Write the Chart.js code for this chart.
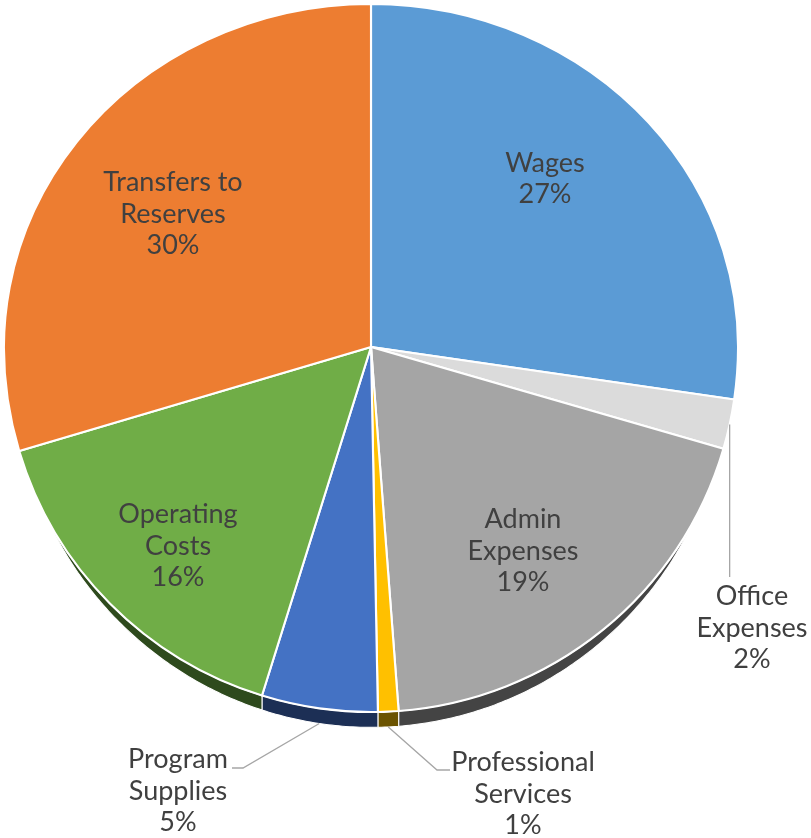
<!DOCTYPE html>
<html>
<head>
<meta charset="utf-8">
<script src="https://cdn.jsdelivr.net/npm/chart.js@4"></script>
<style>
  html, body { margin: 0; padding: 0; background: #fff; }
  #wrap { width: 811px; height: 838px; }
</style>
</head>
<body>
<div id="wrap"><canvas id="budget-pie" width="811" height="838"></canvas></div>
<script>
// slices, clockwise from 12 o'clock
const categories = [
  ["Wages"],
  ["Office", "Expenses"],
  ["Admin", "Expenses"],
  ["Professional", "Services"],
  ["Program", "Supplies"],
  ["Operating", "Costs"],
  ["Transfers to", "Reserves"]
];
const shares = [27.3, 2.2, 19.3, 0.9, 5.1, 15.6, 29.6];

const topColors = ["#5B9BD5", "#DBDBDB", "#A5A5A5", "#FFC000", "#4472C4", "#70AD47", "#ED7D31"];
const sideColors = ["#2E4F6E", "#6E6E6E", "#444444", "#6B5300", "#1C2F55", "#2E4A1D", "#7A3F15"];

// where the text blocks sit (centre x, centre y)
const labelAnchors = [[545, 179], [752, 628], [523, 551], [523, 794], [178, 791], [178, 546], [173, 214]];
// leader lines for the small slices: elbow and end points
const leaders = { 1: [[null, 577]], 3: [[437, 770], [450, 770]], 4: [[243, 768], [232, 768]] };

const R = 345;
const SX = 367 / R;     // wider than tall
const SY_TOP = 343 / R; // far half looks a bit shorter
const SY_BOT = 365 / R; // near half a bit taller
const DEPTH = 14.5;
const FONT = '27px Lato, "Noto Sans", sans-serif';
const LINE_H = 31.5;

function depthAt(a) {
  const s = Math.sin(a);
  return s <= 0.5 ? 0 : DEPTH * Math.pow((s - 0.5) / 0.5, 0.6);
}

function squash(ctx, cx, cy, sy) {
  ctx.translate(cx, cy);
  ctx.scale(SX, sy);
  ctx.translate(-cx, -cy);
}

const pie3d = {
  id: "pie3d",
  beforeDatasetsDraw(chart) {
    const ctx = chart.ctx;
    const arcs = chart.getDatasetMeta(0).data;
    const cx = arcs[0].x, cy = arcs[0].y;

    // side wall, under the top face
    ctx.save();
    squash(ctx, cx, cy, SY_BOT);
    arcs.forEach((arc, i) => {
      const a0 = arc.startAngle, a1 = arc.endAngle;
      const steps = Math.max(4, Math.ceil((a1 - a0) / 0.01));
      ctx.beginPath();
      for (let k = 0; k <= steps; k++) {
        const a = a0 + (a1 - a0) * k / steps;
        ctx.lineTo(cx + R * Math.cos(a), cy + R * Math.sin(a) + depthAt(a));
      }
      for (let k = steps; k >= 0; k--) {
        const a = a0 + (a1 - a0) * k / steps;
        ctx.lineTo(cx + R * Math.cos(a), cy + R * Math.sin(a));
      }
      ctx.closePath();
      ctx.fillStyle = sideColors[i];
      ctx.fill();
      ctx.strokeStyle = "#ffffff";
      ctx.lineWidth = 1;
      ctx.stroke();
    });
    ctx.restore();

    // far half of the top face: chart draws it now
    ctx.save();
    ctx.beginPath();
    ctx.rect(0, 0, chart.width, cy);
    ctx.clip();
    squash(ctx, cx, cy, SY_TOP);
  },
  afterDatasetsDraw(chart) {
    const ctx = chart.ctx;
    ctx.restore();
    const arcs = chart.getDatasetMeta(0).data;
    const cx = arcs[0].x, cy = arcs[0].y;

    // near half of the top face
    ctx.save();
    ctx.beginPath();
    ctx.rect(0, cy, chart.width, chart.height - cy);
    ctx.clip();
    squash(ctx, cx, cy, SY_BOT);
    arcs.forEach(a => a.draw(ctx));
    ctx.restore();

    ctx.save();
    ctx.strokeStyle = "#A6A6A6";
    ctx.lineWidth = 1.3;
    Object.keys(leaders).forEach(k => {
      const arc = arcs[k];
      const mid = (arc.startAngle + arc.endAngle) / 2;
      const x0 = cx + R * SX * Math.cos(mid);
      const y0 = cy + (R * Math.sin(mid) + depthAt(mid)) * SY_BOT;
      ctx.beginPath();
      ctx.moveTo(x0, y0);
      leaders[k].forEach(p => ctx.lineTo(p[0] === null ? x0 : p[0], p[1]));
      ctx.stroke();
    });

    ctx.font = FONT;
    ctx.fillStyle = "#404040";
    ctx.textAlign = "center";
    ctx.textBaseline = "middle";
    const total = shares.reduce((s, v) => s + v, 0);
    categories.forEach((lines, i) => {
      const txt = lines.concat([Math.round(shares[i] / total * 100) + "%"]);
      const [ax, ay] = labelAnchors[i];
      const y0 = ay - (txt.length - 1) * LINE_H / 2;
      txt.forEach((t, j) => ctx.fillText(t, ax, y0 + j * LINE_H));
    });
    ctx.restore();
  }
};

new Chart(document.getElementById("budget-pie"), {
  type: "pie",
  data: {
    labels: categories,
    datasets: [{
      data: shares,
      backgroundColor: topColors,
      borderColor: "#ffffff",
      borderWidth: 2,
      hoverOffset: 0
    }]
  },
  options: {
    responsive: false,
    animation: false,
    radius: R,
    layout: { padding: { left: 0, right: 69, top: 0, bottom: 144 } },
    plugins: {
      legend: { display: false },
      tooltip: { enabled: false }
    }
  },
  plugins: [pie3d]
});
</script>
</body>
</html>
